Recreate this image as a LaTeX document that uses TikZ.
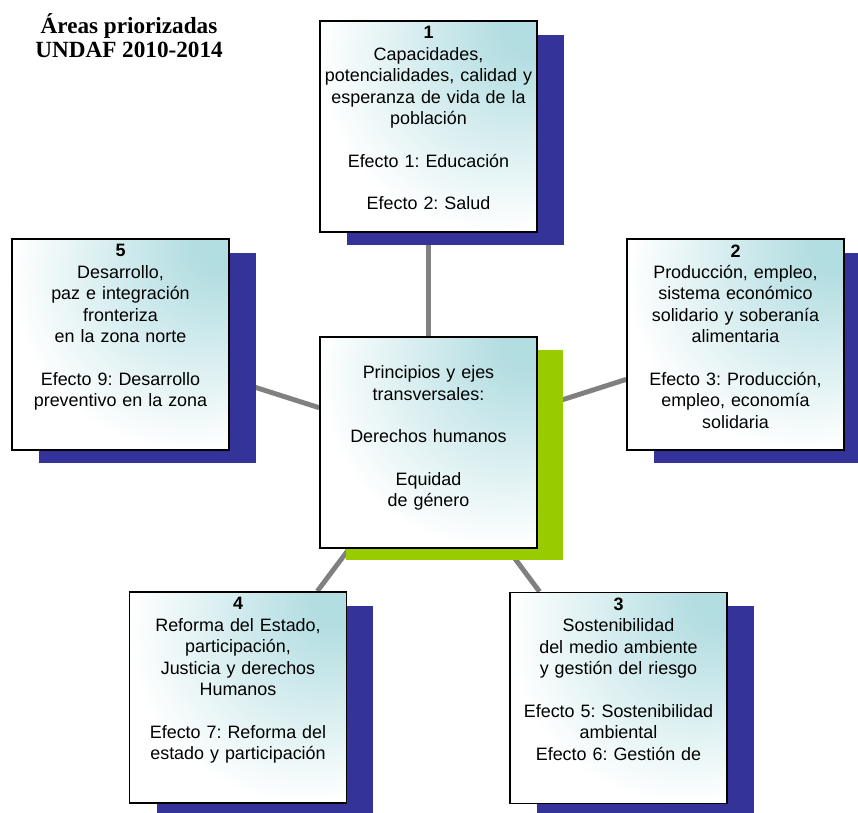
\documentclass[tikz,border=0pt]{standalone}
\usepackage{fontspec}
\setmainfont{Liberation Sans}
\newfontfamily\titlefont{Liberation Serif}
\usetikzlibrary{positioning,shadows,backgrounds}
\frenchspacing

\definecolor{areateal}{RGB}{178,221,225}
\definecolor{shadowblue}{RGB}{51,51,153}
\definecolor{shadowgreen}{RGB}{153,204,0}
\definecolor{linkgray}{RGB}{128,128,128}

% light from the top right corner
\pgfdeclareradialshading{areashade}{\pgfpoint{25bp}{25bp}}{color(0bp)=(areateal); color(6bp)=(areateal); color(40bp)=(white); color(100bp)=(white)}

\tikzset{
    areabox/.style={draw=black, line width=1pt, minimum width=4.34cm, minimum height=4.22cm,
        inner sep=0pt, shading=areashade},
    blueshadow/.style={drop shadow={shadow xshift=0.54cm, shadow yshift=-0.27cm, fill=shadowblue, opacity=1}},
    greenshadow/.style={drop shadow={shadow xshift=0.52cm, shadow yshift=-0.25cm, fill=shadowgreen, opacity=1}},
    areatext/.style={inner sep=0pt, text width=4.3cm, align=center, font=\fontsize{10.2}{12.2}\selectfont},
    link/.style={draw=linkgray, line width=2.8pt},
}

\begin{document}
\begin{tikzpicture}[x=0.02cm, y=0.02cm]
        \useasboundingbox (0, 0) rectangle (858, -812);

        % Title
        \node[font=\titlefont\bfseries\fontsize{13.2}{13.6}\selectfont, align=center] (title) at (129, -36) {Áreas priorizadas\\UNDAF 2010-2014};

        % Principios
        \node[areabox, greenshadow] (mid) at (428.5, -442.5) {};
        \node[areatext] (tm) at (428.5, -438) {Principios y ejes\\transversales:\\[12pt]Derechos humanos\\[12pt]Equidad\\de género};

        % Area 1
        \node[areabox, blueshadow] (b1) at (428.5, -126.5) {};
        \node[areatext, below=0.12cm of b1.north] (t1) {\textbf{1}\\Capacidades,\\potencialidades, calidad y\\esperanza de vida de la\\población\\[12pt]Efecto 1: Educación\\[12pt]Efecto 2: Salud};

        % Area 2
        \node[areabox, blueshadow] (b2) at (735.5, -344.5) {};
        \node[areatext, below=0.12cm of b2.north] (t2) {\textbf{2}\\Producción, empleo,\\sistema económico\\solidario y soberanía\\alimentaria\\[12pt]Efecto 3: Producción,\\empleo, economía\\solidaria};

        % Area 3
        \node[areabox, blueshadow] (b3) at (618.5, -698) {};
        \node[areatext, below=0.12cm of b3.north] (t3) {\textbf{3}\\Sostenibilidad\\del medio ambiente\\y gestión del riesgo\\[12pt]Efecto 5: Sostenibilidad\\ambiental\\Efecto 6: Gestión de};

        % Area 4
        \node[areabox, blueshadow] (b4) at (238, -697.5) {};
        \node[areatext, below=0.12cm of b4.north] (t4) {\textbf{4}\\Reforma del Estado,\\participación,\\Justicia y derechos\\Humanos\\[12pt]Efecto 7: Reforma del\\estado y participación};

        % Area 5
        \node[areabox, blueshadow] (b5) at (120.5, -344.5) {};
        \node[areatext, below=0.12cm of b5.north] (t5) {\textbf{5}\\Desarrollo,\\paz e integración\\fronteriza\\en la zona norte\\[12pt]Efecto 9: Desarrollo\\preventivo en la zona};

        % Links
        \begin{scope}[on background layer]
            \draw[link] (mid) -- (b1);
            \draw[link] (mid) -- (b2);
            \draw[link] (mid) -- (b3);
            \draw[link] (mid) -- (b4);
            \draw[link] (mid) -- (b5);
        \end{scope}
    \end{tikzpicture}
\end{document}
